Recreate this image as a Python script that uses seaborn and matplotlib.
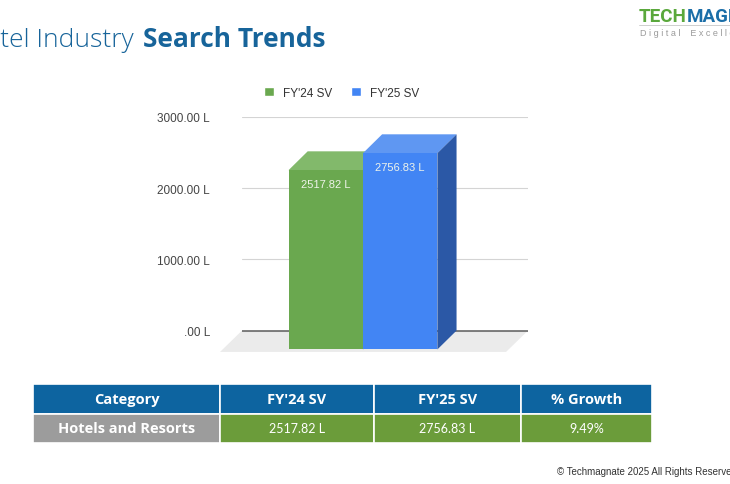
import matplotlib
matplotlib.use("Agg")
import pandas as pd
import matplotlib.pyplot as plt
import seaborn as sns
from matplotlib.patches import Polygon, Patch
from matplotlib.lines import Line2D

# Chart data
categories = ["Hotels and Resorts"]
series = ["FY'24 SV", "FY'25 SV"]
values = [2517.82, 2756.83]
growth = ["9.49%"]
y_ticks = [0, 1000, 2000, 3000]
y_tick_labels = [".00 L", "1000.00 L", "2000.00 L", "3000.00 L"]
table_header = ["Category", "FY'24 SV", "FY'25 SV", "% Growth"]

front_colors = {"FY'24 SV": "#6aa84f", "FY'25 SV": "#4285f4"}
top_colors = {"FY'24 SV": "#82b96b", "FY'25 SV": "#5f97f2"}
side_colors = {"FY'24 SV": "#4c7f37", "FY'25 SV": "#2b58a6"}

df = pd.DataFrame({"Category": categories * len(series), "Series": series, "SV": values})

sns.set_theme(style="white")
plt.rcParams["font.family"] = ["Liberation Sans", "DejaVu Sans"]

W, H = 730, 485
fig = plt.figure(figsize=(W / 100, H / 100), dpi=100)
fig.patch.set_facecolor("white")


def px(x0, y0, x1, y1):
    return [x0 / W, 1 - y1 / H, (x1 - x0) / W, (y1 - y0) / H]


# 1. Bar chart (fake 3D like the Google Sheets export)
ax = fig.add_axes(px(242, 118, 528, 354))
sns.barplot(data=df, x="Category", y="SV", hue="Series", palette=front_colors,
            width=0.8, saturation=1, linewidth=0, legend=False, ax=ax, zorder=3)

depth_y = 265     # data units
depth_x = 0.103   # category units
ax.set_xlim(-0.65, 0.887)
ax.set_ylim(-315, 3000)

for patch, s, v in zip(ax.patches, series, values):
    x0, w = patch.get_x(), patch.get_width()
    patch.set_y(-depth_y)
    patch.set_height(v)
    top = Polygon([(x0, v - depth_y), (x0 + w, v - depth_y), (x0 + w + depth_x, v), (x0 + depth_x, v)],
                  closed=True, facecolor=top_colors[s], edgecolor="none", zorder=2)
    side = Polygon([(x0 + w, -depth_y), (x0 + w + depth_x, 0), (x0 + w + depth_x, v), (x0 + w, v - depth_y)],
                   closed=True, facecolor=side_colors[s], edgecolor="none", zorder=2)
    ax.add_patch(top)
    ax.add_patch(side)
    ax.annotate(f"{v:.2f} L", xy=(x0 + w / 2, v - depth_y), xytext=(0, -6),
                textcoords="offset points", ha="center", va="top",
                color="#eef3ea", fontsize=8, zorder=5)

# floor
xl, xr = ax.get_xlim()
ax.add_patch(Polygon([(xl, 0), (xr, 0), (xr - 0.118, -300), (xl - 0.118, -300)], closed=True,
                     facecolor="#ebebeb", edgecolor="none", zorder=0.2, clip_on=False))
ax.axhline(0, color="#6b6b6b", lw=1.2, zorder=1)

ax.set_yticks(y_ticks, y_tick_labels)
ax.yaxis.grid(True, color="#d4d4d4", lw=0.8)
ax.set_axisbelow(True)
ax.tick_params(axis="y", length=0, pad=23, labelsize=8.5, labelcolor="#444444")
ax.tick_params(axis="x", length=0, labelbottom=False)
ax.set_xlabel("")
ax.set_ylabel("")
sns.despine(ax=ax, left=True, bottom=True)
ax.patch.set_alpha(0)

handles = [Patch(facecolor=front_colors[s]) for s in series]
fig.legend(handles, series, loc="center", bbox_to_anchor=(342 / W, 1 - 94 / H), ncol=2,
           frameon=False, handlelength=0.8, handleheight=0.8, columnspacing=1.6,
           handletextpad=0.8, fontsize=8.5, labelcolor="#333333")

# 2. Title and logo
title_color = "#17649a"
bold = fig.text(143 / W, 1 - 53 / H, "Search Trends", ha="left", va="bottom",
                fontsize=19, fontweight="bold", color=title_color, family=["Open Sans", "DejaVu Sans"])
ax.annotate("Hotel Industry", xy=(0, 0), xycoords=bold, xytext=(-7, 0), textcoords="offset points",
            ha="right", va="bottom", fontsize=19, fontweight=300, color=title_color,
            family=["Open Sans", "DejaVu Sans"], annotation_clip=False)

logo_font = dict(fontsize=13.5, fontweight="bold", family=["Roboto", "DejaVu Sans"])
logo = fig.text(639 / W, 1 - 22 / H, "TECH", ha="left", va="baseline", color="#5aa83c", **logo_font)
ax.annotate("MAGNATE", xy=(1, 0), xycoords=logo, ha="left", va="bottom", color="#1b6ea8",
            annotation_clip=False, **logo_font)
fig.add_artist(Line2D([639 / W, 1], [1 - 26 / H, 1 - 26 / H], color="#c8c8c8", lw=0.6))
fig.text(640 / W, 1 - 33 / H, "D i g i t a l    E x c e l l e n c e", ha="left", va="center",
         fontsize=6.5, color="#9a9a9a")

# 3. Summary table
tax = fig.add_axes(px(33, 385, 652, 444))
tax.axis("off")
row = [categories[0], f"{values[0]:.2f} L", f"{values[1]:.2f} L", growth[0]]
widths = [187, 154, 147, 131]
tbl = tax.table(cellText=[row], colLabels=table_header, colWidths=[w / sum(widths) for w in widths],
                cellLoc="center", bbox=[0, 0, 1, 1])
tbl.auto_set_font_size(False)
for (r, c), cell in tbl.get_celld().items():
    cell.set_edgecolor("white")
    cell.set_linewidth(1.2)
    txt = cell.get_text()
    txt.set_color("white")
    if r == 0 or c == 0:
        txt.set_fontfamily(["Open Sans", "DejaVu Sans"])
        txt.set_fontweight("bold")
        txt.set_fontsize(10.5)
        cell.set_facecolor("#0d64a0" if r == 0 else "#9c9c9c")
    else:
        txt.set_fontfamily(["Lato", "DejaVu Sans"])
        txt.set_fontsize(9)
        cell.set_facecolor("#6b9c3a")

fig.text(557 / W, 1 - 472 / H, "\u00a9 Techmagnate 2025 All Rights Reserved", ha="left", va="center",
         fontsize=7, color="#333333")

fig.savefig("out.png", dpi=100)
